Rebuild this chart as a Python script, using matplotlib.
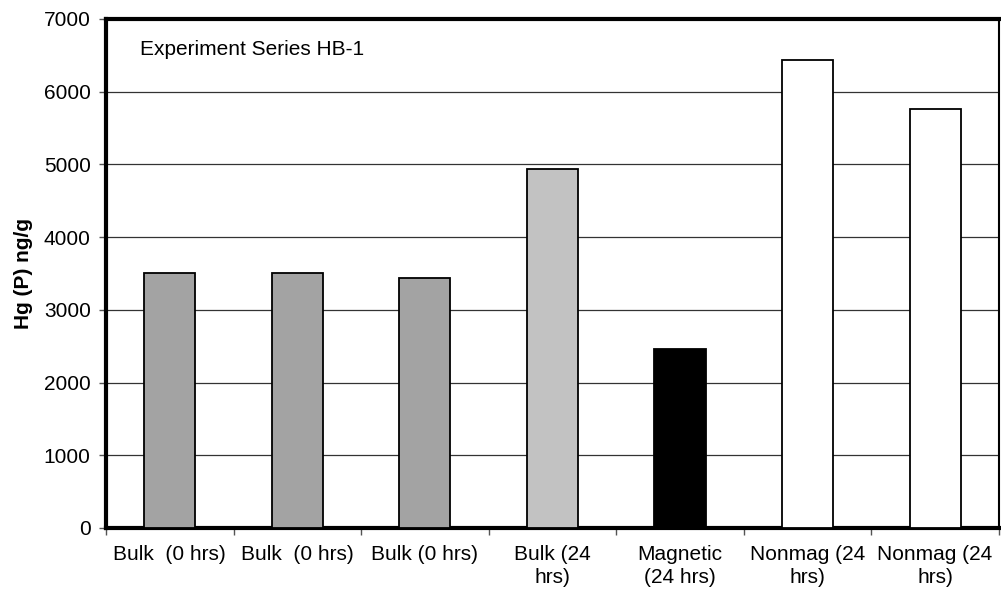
"""
Hg (P) concentration, experiment series HB-1: bulk, magnetic and
nonmagnetic fractions at 0 and 24 hours.
"""

import matplotlib.pyplot as plt
import numpy as np

plt.rcParams["font.family"] = ["Liberation Sans", "DejaVu Sans"]

categories = [
    "Bulk  (0 hrs)", "Bulk  (0 hrs)", "Bulk (0 hrs)", "Bulk (24\nhrs)",
    "Magnetic\n(24 hrs)", "Nonmag (24\nhrs)", "Nonmag (24\nhrs)",
]
hg_values = [3500, 3500, 3440, 4940, 2460, 6440, 5760]
bar_colors = ["#a3a3a3", "#a3a3a3", "#a3a3a3", "#c2c2c2",
              "#000000", "#ffffff", "#ffffff"]
y_ticks = [0, 1000, 2000, 3000, 4000, 5000, 6000, 7000]


def main() -> None:
    fig = plt.figure(figsize=(10.01, 6.01), dpi=100)
    ax = fig.add_axes([0.1059, 0.1215, 0.892, 0.847])

    x = np.arange(len(categories))
    ax.bar(x, hg_values, width=0.4, color=bar_colors,
           edgecolor="black", linewidth=1.3, zorder=3)

    ax.set_xlim(-0.5, len(categories) - 0.5)
    ax.set_ylim(0, 7000)
    ax.set_yticks(y_ticks)
    ax.yaxis.grid(True, color="#333333", linewidth=0.9, zorder=0)

    # labels centered under bars, tick marks on category boundaries
    ax.set_xticks(x)
    ax.set_xticklabels(categories, fontsize=15, linespacing=1.3)
    ax.tick_params(axis="x", length=0, pad=12)
    ax.set_xticks(np.arange(-0.5, len(categories)), minor=True)
    ax.tick_params(axis="x", which="minor", length=5, width=1,
                   color="#555555", direction="out")
    ax.tick_params(axis="y", labelsize=15, length=5, width=1,
                   color="#555555", pad=6)

    for side in ("left", "bottom", "top"):
        ax.spines[side].set_linewidth(3)
    ax.spines["right"].set_linewidth(1.5)

    ax.set_ylabel("Hg (P) ng/g", fontsize=15, fontweight="bold", labelpad=8)
    ax.text(0.038, 0.939, "Experiment Series HB-1", transform=ax.transAxes,
            fontsize=15, va="center", ha="left")

    fig.savefig("out.png", dpi=100)


if __name__ == "__main__":
    main()
